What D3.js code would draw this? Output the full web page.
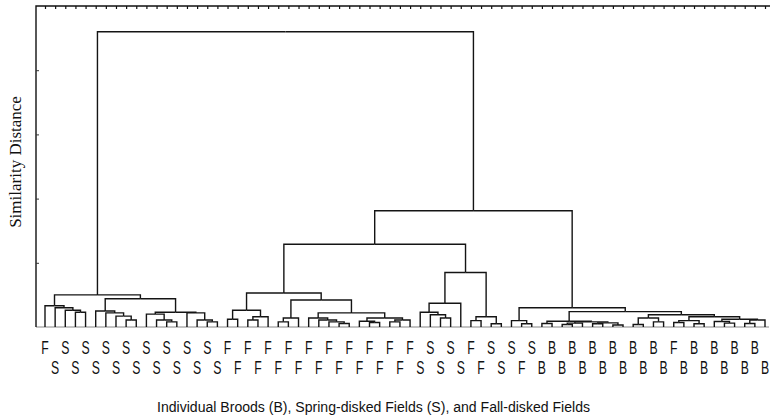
<!DOCTYPE html>
<html>
<head>
<meta charset="utf-8">
<script src="https://d3js.org/d3.v7.min.js"></script>
<style>
  body { margin: 0; background: #fff; }
  svg { display: block; }
</style>
</head>
<body>
<div id="chart"></div>
<script>
/**  tree diagram: broods and disked fields **/

// leaf labels, leaves alternate between upper and lower row
var topRow = ["F","S","S","S","S","S","S","S","S","F","F","F","F","F","F","F","F","F",
              "F","S","S","F","S","S","S","B","B","B","B","B","B","F","B","B","B","B"];
var bottomRow = ["S","S","S","S","S","S","S","S","S","F","F","F","F","F","F","F","F","F",
                 "S","S","S","F","S","F","B","B","B","B","B","B","B","B","B","B","B","B"];

// sub trees: [linkage distance, left, right], plain number = leaf index
var springCluster = [0.50,
    [0.33, 0, [0.30, 1, [0.26, 2, [0.23, 3, 4]]]],
    [0.44,
        [0.25, 5, [0.22, 6, [0.17, 7, [0.11, 8, 9]]]],
        [0.23, [0.20, 10, [0.11, 11, [0.08, 12, 13]]], [0.22, 14, [0.11, 15, [0.08, 16, 17]]]]]];

var fallCluster = [0.53,
    [0.26, [0.12, 18, 19], [0.16, [0.11, 20, 21], 22]],
    [0.42,
        [0.14, [0.08, 23, 24], 25],
        [0.22,
            [0.14, 26, [0.11, 27, [0.08, 28, [0.055, 29, 30]]]],
            [0.14, [0.09, 31, [0.07, 32, 33]], [0.11, [0.08, 34, 35], 36]]]]];

var mixedCluster = [0.85,
    [0.37, [0.23, 37, [0.19, 38, [0.14, 39, 40]]], 41],
    [0.16, [0.10, 42, 43], [0.05, 44, 45]]];

var broodCluster = [0.30,
    [0.10, 46, [0.05, 47, 48]],
    [0.24,
        [0.09, [0.055, 49, 50], [0.08, [0.06, [0.04, 51, 52], 53], [0.065, [0.05, 54, 55], [0.03, 56, 57]]]],
        [0.19,
            [0.14, [0.04, 58, 59], [0.08, 60, 61]],
            [0.16, [0.10, [0.07, 62, 63], [0.05, 64, 65]],
                   [0.12, [0.086, 66, [0.06, 67, 68]], [0.11, [0.055, 69, 70], 71]]]]]];

// upper joins
var joinHeights = [4.60, 1.81, 1.29];

var yTicks = [1, 2, 3, 4];

var tree = [joinHeights[0], springCluster,
            [joinHeights[1], [joinHeights[2], fallCluster, mixedCluster], broodCluster]];

var leafLabels = d3.range(72).map(function(i){
    return i % 2 == 0 ? topRow[i / 2] : bottomRow[(i - 1) / 2];
});

var width = 770, height = 419;

var svg = d3.select("#chart").append("svg")
    .attr("width", width)
    .attr("height", height);

var x = d3.scaleLinear().domain([0, 71]).range([45, 765]);
var y = d3.scaleLinear().domain([0, 5]).range([327, 6]);

var root = d3.hierarchy(tree, function(d){ return Array.isArray(d) ? d.slice(1) : null; });

//position of every node: leaves from scale, joins in the middle of their children
root.eachAfter(function(n){
    n.dist = Array.isArray(n.data) ? n.data[0] : 0;
    n.px = n.children ? d3.mean(n.children, function(c){ return c.px; }) : x(n.data);
});

// frame
svg.append("line")
    .attr("x1", 36).attr("x2", 769)
    .attr("y1", y(0)).attr("y2", y(0))
    .attr("stroke", "#888").attr("stroke-width", 1.2);

svg.append("path")
    .attr("d", "M36," + y(0) + "V" + y(5) + "H770")
    .attr("fill", "none")
    .attr("stroke", "#111")
    .attr("stroke-width", 1.4);

var topAxis = svg.append("g")
    .attr("transform", "translate(0," + y(5) + ")")
    .call(d3.axisBottom(x).tickValues(d3.range(72)).tickSize(3).tickFormat(""));
topAxis.select(".domain").remove();
topAxis.selectAll("line").attr("stroke", "#111").attr("stroke-width", 1.2);

var leftAxis = svg.append("g")
    .attr("transform", "translate(36,0)")
    .call(d3.axisRight(y).tickValues(yTicks).tickSize(3).tickFormat(""));
leftAxis.select(".domain").remove();
leftAxis.selectAll("line").attr("stroke", "#333").attr("stroke-width", 1);

// branches
svg.append("g")
    .selectAll("path")
    .data(root.descendants().filter(function(n){ return n.parent; }))
    .enter().append("path")
    .attr("d", function(n){
        return "M" + n.px + "," + y(n.dist) + "V" + y(n.parent.dist) + "H" + n.parent.px;
    })
    .attr("fill", "none")
    .attr("stroke", "#141414")
    .attr("stroke-width", 1.4);

// leaf letters
svg.append("g")
    .selectAll("text")
    .data(leafLabels)
    .enter().append("text")
    .attr("transform", function(d, i){
        return "translate(" + x(i) + "," + (i % 2 == 0 ? 354 : 374) + ") scale(0.68,1)";
    })
    .attr("text-anchor", "middle")
    .style("font-family", "'Liberation Sans', Arial, sans-serif")
    .style("font-size", "18px")
    .style("fill", "#111")
    .text(function(d){ return d; });

// titles
svg.append("text")
    .attr("x", 157).attr("y", 412)
    .attr("textLength", 433)
    .attr("lengthAdjust", "spacingAndGlyphs")
    .style("font-family", "'Liberation Sans', Arial, sans-serif")
    .style("font-size", "14px")
    .style("fill", "#111")
    .text("Individual Broods (B), Spring-disked Fields (S), and Fall-disked Fields");

svg.append("text")
    .attr("transform", "translate(21,162) rotate(-90)")
    .attr("text-anchor", "middle")
    .style("font-family", "'Liberation Serif', 'Times New Roman', serif")
    .style("font-size", "17px")
    .style("fill", "#111")
    .text("Similarity Distance");
</script>
</body>
</html>
